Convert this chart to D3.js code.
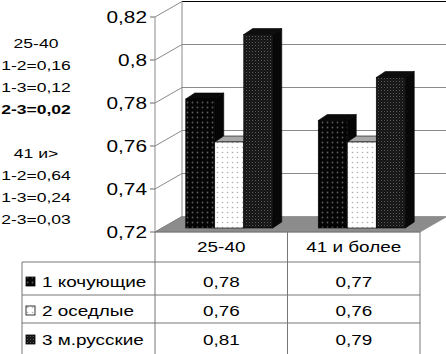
<!DOCTYPE html>
<html>
<head>
<meta charset="utf-8">
<script src="https://cdn.jsdelivr.net/npm/d3@7"></script>
<style>
  body { margin: 0; background: #fff; }
  svg { display: block; font-family: "Liberation Sans", Arial, sans-serif; }
</style>
</head>
<body>
<div id="chart"></div>
<script>
const categories = ["25-40", "41 и более"];
const seriesNames = ["1 кочующие", "2 оседлые", "3 м.русские"];
const nomadic = [0.78, 0.77];
const settled = [0.76, 0.76];
const russian = [0.81, 0.79];
const yTicks = [0.72, 0.74, 0.76, 0.78, 0.8, 0.82];
const notes = ["25-40", "1-2=0,16", "1-3=0,12", "2-3=0,02", "", "41 и>", "1-2=0,64", "1-3=0,24", "2-3=0,03"];
const boldNote = "2-3=0,02";

const width = 446, height = 354;
const seriesValues = [nomadic, settled, russian];
const fmt = v => String(+v.toFixed(2)).replace(".", ",");

const svg = d3.select("#chart").append("svg")
    .attr("width", width)
    .attr("height", height);

// patterns for the bar fills
const defs = svg.append("defs");
const p1 = defs.append("pattern").attr("id", "pat1").attr("patternUnits", "userSpaceOnUse")
    .attr("width", 5).attr("height", 5);
p1.append("rect").attr("width", 5).attr("height", 5).attr("fill", "#050505");
p1.append("circle").attr("cx", 2.5).attr("cy", 2.5).attr("r", 0.9).attr("fill", "#5a5a5a");

const p2 = defs.append("pattern").attr("id", "pat2").attr("patternUnits", "userSpaceOnUse")
    .attr("width", 5).attr("height", 5);
p2.append("rect").attr("width", 5).attr("height", 5).attr("fill", "#fff");
p2.append("circle").attr("cx", 2.5).attr("cy", 2.5).attr("r", 0.8).attr("fill", "#b0b0b0");

const p3 = defs.append("pattern").attr("id", "pat3").attr("patternUnits", "userSpaceOnUse")
    .attr("width", 3).attr("height", 3);
p3.append("rect").attr("width", 3).attr("height", 3).attr("fill", "#141414");
p3.append("rect").attr("width", 1).attr("height", 1).attr("fill", "#5c5c5c");
p3.append("rect").attr("x", 1.5).attr("y", 1.5).attr("width", 1).attr("height", 1).attr("fill", "#333");

const fronts = ["url(#pat1)", "url(#pat2)", "url(#pat3)"];
const tops = ["#0a0a0a", "#a8a8a8", "#0e0e0e"];
const sides = ["#050505", "#9a9a9a", "#080808"];

// stretched text helper
const addText = (x, y, str, opts = {}) => svg.append("text")
    .attr("transform", `translate(${x},${y}) scale(${opts.sx || 1.3},1)`)
    .attr("text-anchor", opts.anchor || "middle")
    .style("font-size", (opts.size || 16) + "px")
    .style("font-weight", opts.weight || "normal")
    .attr("fill", "#000")
    .text(str);

// 3D frame
const xLeft = 155, xRight = 420;
const depth = { dx: 27, dy: -15.5 };
const y = d3.scaleLinear().domain([0.72, 0.82]).range([232, 17]);
const x0 = d3.scaleBand().domain(categories).range([xLeft, xRight]);

// back wall
svg.append("rect")
    .attr("x", xLeft + depth.dx).attr("y", y(0.82) + depth.dy)
    .attr("width", width - xLeft - depth.dx).attr("height", y(0.72) - y(0.82))
    .attr("fill", "#fff");

yTicks.forEach(t => {
    // back wall gridline
    if (t > 0.72) {
        svg.append("line")
            .attr("x1", xLeft + depth.dx).attr("x2", width)
            .attr("y1", y(t) + depth.dy).attr("y2", y(t) + depth.dy)
            .attr("stroke", t === 0.82 ? "#000" : "#8a8a8a").attr("stroke-width", 1);
    }
    // side wall gridline
    svg.append("line")
        .attr("x1", xLeft).attr("x2", xLeft + depth.dx)
        .attr("y1", y(t)).attr("y2", y(t) + depth.dy)
        .attr("stroke", "#8a8a8a");
    // tick
    svg.append("line")
        .attr("x1", xLeft - 5).attr("x2", xLeft)
        .attr("y1", y(t)).attr("y2", y(t))
        .attr("stroke", "#666");
    addText(147, y(t) + 6, fmt(t), { anchor: "end", size: 16, sx: 1.3 });
});

// back wall left edge and front axis
svg.append("line")
    .attr("x1", xLeft + depth.dx).attr("x2", xLeft + depth.dx)
    .attr("y1", y(0.82) + depth.dy).attr("y2", y(0.72) + depth.dy)
    .attr("stroke", "#8a8a8a");
svg.append("line")
    .attr("x1", xLeft).attr("x2", xLeft)
    .attr("y1", y(0.82)).attr("y2", y(0.72))
    .attr("stroke", "#8a8a8a");

// floor
svg.append("path")
    .attr("d", `M${xLeft},${y(0.72)} L${xRight},${y(0.72)} L${xRight + depth.dx},${y(0.72) + depth.dy} L${xLeft + depth.dx},${y(0.72) + depth.dy} Z`)
    .attr("fill", "#8c8c8c")
    .attr("stroke", "#777")
    .attr("stroke-width", 0.6);

// bars
const barW = 29;
const x1 = d3.scaleBand().domain(d3.range(seriesNames.length)).range([0, barW * 3]);
const face = { dx: 8, dy: -4 };
const bar = { dx: 9, dy: -6 };
const pad = (x0.bandwidth() - barW * 3) / 2;

categories.forEach((c, ci) => {
    seriesValues.forEach((vals, si) => {
        const v = vals[ci];
        const fx = x0(c) + pad + x1(si) + face.dx;
        const fyTop = y(v) + face.dy;
        const fyBot = y(0.72) + face.dy;
        const w = x1.bandwidth();
        const g = svg.append("g");
        g.append("path")
            .attr("d", `M${fx + w},${fyTop} L${fx + w + bar.dx},${fyTop + bar.dy} L${fx + w + bar.dx},${fyBot + bar.dy} L${fx + w},${fyBot} Z`)
            .attr("fill", sides[si]).attr("stroke", "#000").attr("stroke-width", 0.6);
        g.append("path")
            .attr("d", `M${fx},${fyTop} L${fx + bar.dx},${fyTop + bar.dy} L${fx + w + bar.dx},${fyTop + bar.dy} L${fx + w},${fyTop} Z`)
            .attr("fill", tops[si]).attr("stroke", "#000").attr("stroke-width", 0.6);
        g.append("rect")
            .attr("x", fx).attr("y", fyTop)
            .attr("width", w).attr("height", fyBot - fyTop)
            .attr("fill", fronts[si]).attr("stroke", "#000").attr("stroke-width", 0.6);
    });
});

// data table
const tableLeft = 22;
const rowEdges = [232, 262, 295, 323, 354];
const lineColor = "#777";

[tableLeft, xLeft, xLeft + x0.bandwidth(), xRight].forEach((lx, i) => {
    svg.append("line")
        .attr("x1", lx).attr("x2", lx)
        .attr("y1", i === 0 ? rowEdges[1] : rowEdges[0]).attr("y2", height)
        .attr("stroke", lineColor);
});
rowEdges.slice(1, 4).forEach(ry => {
    svg.append("line")
        .attr("x1", tableLeft).attr("x2", xRight)
        .attr("y1", ry).attr("y2", ry)
        .attr("stroke", lineColor);
});
svg.append("line")
    .attr("x1", xLeft).attr("x2", xRight)
    .attr("y1", rowEdges[0]).attr("y2", rowEdges[0])
    .attr("stroke", lineColor);

categories.forEach(c => {
    addText(x0(c) + x0.bandwidth() / 2, 252, c, { size: 15.5, sx: 1.22 });
});

const rowBase = [287, 316, 345];
seriesNames.forEach((name, si) => {
    svg.append("rect")
        .attr("x", 26).attr("y", rowBase[si] - 10)
        .attr("width", 9).attr("height", 9)
        .attr("fill", fronts[si])
        .attr("stroke", "#000").attr("stroke-width", 0.8);
    addText(42, rowBase[si], name, { anchor: "start", size: 15.5, sx: 1.22 });
    categories.forEach((c, ci) => {
        addText(x0(c) + x0.bandwidth() / 2, rowBase[si], fmt(seriesValues[si][ci]), { size: 15.5, sx: 1.22 });
    });
});

// significance notes at the left
notes.forEach((n, i) => {
    if (!n) return;
    addText(36, 48 + i * 22, n, { size: 13.5, sx: 1.3, weight: n === boldNote ? "bold" : "normal" });
});
</script>
</body>
</html>
